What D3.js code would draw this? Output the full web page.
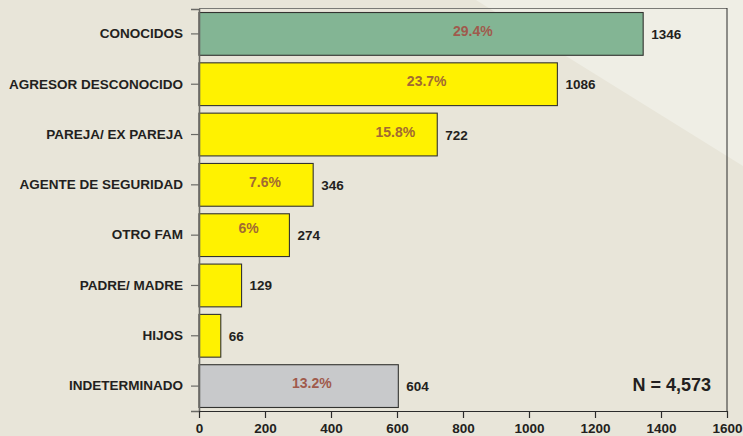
<!DOCTYPE html>
<html>
<head>
<meta charset="utf-8">
<script src="https://cdn.jsdelivr.net/npm/d3@7"></script>
<style>
  body { margin: 0; background: #e8e5d9; }
  svg { display: block; font-family: "Liberation Sans", Arial, sans-serif; }
</style>
</head>
<body>
<div id="graph"></div>
<script>
// categorias y valores
const categories = ["CONOCIDOS", "AGRESOR DESCONOCIDO", "PAREJA/ EX PAREJA", "AGENTE DE SEGURIDAD",
                    "OTRO FAM", "PADRE/ MADRE", "HIJOS", "INDETERMINADO"];
const values = [1346, 1086, 722, 346, 274, 129, 66, 604];
const percents = ["29.4%", "23.7%", "15.8%", "7.6%", "6%", "", "", "13.2%"];
// donde cae el texto del porcentaje (en unidades del eje)
const percentAt = [830, 690, 595, 200, 150, 0, 0, 342];
const xTicks = [0, 200, 400, 600, 800, 1000, 1200, 1400, 1600];
const total = "N = 4,573";

const width = 743, height = 436;
const margin = { top: 9, right: 16, bottom: 25, left: 199 };
const fs = "13.5px";

const svg = d3.select("#graph").append("svg")
    .attr("width", width)
    .attr("height", height);

// fondo con el triangulo claro arriba a la derecha
svg.append("rect").attr("width", width).attr("height", height).attr("fill", "#e8e5d9");
svg.append("path")
    .attr("d", `M476,0 L${width},0 L${width},166 Z`)
    .attr("fill", "#efeee5");

const x = d3.scaleLinear()
    .domain([0, 1600])
    .range([margin.left, width - margin.right]);

const y = d3.scaleBand()
    .domain(categories)
    .range([margin.top, height - margin.bottom])
    .paddingInner(0.15)
    .paddingOuter(0.07);

const color = c => c === "CONOCIDOS" ? "#83b594" : c === "INDETERMINADO" ? "#c8c9cb" : "#fff200";

// marco
svg.append("line")
    .attr("x1", margin.left).attr("x2", width - margin.right)
    .attr("y1", margin.top - 0.5).attr("y2", margin.top - 0.5)
    .attr("stroke", "#7a7a76").attr("stroke-width", 1.2);
svg.append("line")
    .attr("x1", width - margin.right).attr("x2", width - margin.right)
    .attr("y1", margin.top - 1).attr("y2", height - margin.bottom)
    .attr("stroke", "#2b2b2b").attr("stroke-width", 1);

const rows = categories.map((c, i) => ({ c, v: values[i], p: percents[i], at: percentAt[i] }));

svg.selectAll(".bar")
    .data(rows)
    .enter()
    .append("rect")
    .attr("class", "bar")
    .attr("x", x(0))
    .attr("y", d => y(d.c))
    .attr("width", d => x(d.v) - x(0))
    .attr("height", y.bandwidth())
    .attr("fill", d => color(d.c))
    .attr("stroke", "#333330")
    .attr("stroke-width", 1.1);

// valores al final de la barra
svg.selectAll(".val")
    .data(rows)
    .enter()
    .append("text")
    .attr("x", d => x(d.v) + 8)
    .attr("y", d => y(d.c) + y.bandwidth() / 2 + 5)
    .attr("font-size", fs)
    .attr("font-weight", "bold")
    .attr("fill", "#231f20")
    .text(d => d.v);

// porcentajes
svg.selectAll(".pct")
    .data(rows.filter(d => d.p))
    .enter()
    .append("text")
    .attr("x", d => x(d.at))
    .attr("y", d => y(d.c) + y.bandwidth() / 2 + (d.p === "6%" ? -2 : 2))
    .attr("text-anchor", "middle")
    .attr("font-size", "14px")
    .attr("font-weight", "bold")
    .attr("fill", d => color(d.c) === "#fff200" ? "#a26a32" : "#a05a4c")
    .text(d => d.p);

// ejes
const yAxis = svg.append("g")
    .attr("transform", `translate(${margin.left},0)`)
    .call(d3.axisLeft(y).tickSize(8).tickPadding(8));
yAxis.select(".domain").attr("stroke", "#6a6a66").attr("stroke-width", 1.6);
yAxis.selectAll(".tick line").attr("stroke", "#6a6a66").attr("stroke-width", 1.2);
yAxis.selectAll(".tick text")
    .attr("font-size", fs)
    .attr("font-weight", "bold")
    .attr("fill", "#231f20")
    .attr("font-family", "Liberation Sans, Arial, sans-serif");

const xAxis = svg.append("g")
    .attr("transform", `translate(0,${height - margin.bottom})`)
    .call(d3.axisBottom(x).tickValues(xTicks).tickFormat(d3.format("d"))
        .tickSize(7).tickSizeOuter(0).tickPadding(5));
xAxis.select(".domain").attr("stroke", "#2b2b2b").attr("stroke-width", 1.2);
xAxis.selectAll(".tick line").attr("stroke", "#2b2b2b").attr("stroke-width", 1.2);
xAxis.selectAll(".tick text")
    .attr("font-size", fs)
    .attr("font-weight", "bold")
    .attr("fill", "#231f20")
    .attr("font-family", "Liberation Sans, Arial, sans-serif");
// el ultimo rotulo se sale por la derecha, lo pego al borde
xAxis.selectAll(".tick text").filter(d => d === 1600).attr("text-anchor", "end").attr("x", 15);

svg.append("text")
    .attr("x", 711)
    .attr("y", 391)
    .attr("text-anchor", "end")
    .attr("font-size", "18px")
    .attr("font-weight", "bold")
    .attr("fill", "#231f20")
    .text(total);
</script>
</body>
</html>
